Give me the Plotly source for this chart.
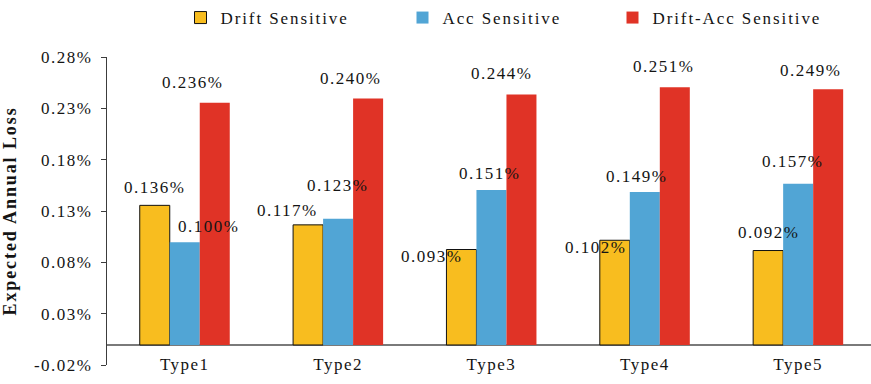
import plotly.graph_objects as go

# ---- data -------------------------------------------------------------
categories = ["Type1", "Type2", "Type3", "Type4", "Type5"]
series_names = ["Drift Sensitive", "Acc Sensitive", "Drift-Acc Sensitive"]
drift_sensitive = [0.136, 0.117, 0.093, 0.102, 0.092]
acc_sensitive = [0.100, 0.123, 0.151, 0.149, 0.157]
drift_acc_sensitive = [0.236, 0.240, 0.244, 0.251, 0.249]
y_tick_labels = ["-0.02%", "0.03%", "0.08%", "0.13%", "0.18%", "0.23%", "0.28%"]
y_axis_title = "Expected Annual Loss"

# ---- styling ----------------------------------------------------------
FONT = "Liberation Serif"
TEXT_COLOR = "#141414"
COLORS = ["#F8BD1F", "#51A5D5", "#E03326"]
OUTLINES = [("#111111", 1.0), (None, 0), (None, 0)]
LEGEND_WIDTHS = [177, 165, 170]
Y_MIN, Y_STEP = -0.0195, 0.05
BARGAP = 0.413

# per-label pixel nudges (dx, dy) so the value labels don't collide
LABEL_SHIFTS = [
    [(0, 18), (-21, 14), (-30, -6.5), (-19, -7), (0, 18)],
    [(24, 16), (-1, 33), (-2, 16), (-8, 16), (-6, 22.6)],
    [(-22, 20), (-18, 20), (-20, 21), (-11, 21), (-18, 19)],
]


def spaced(text, px=1.5):
    return f'<span style="letter-spacing:{px}px">{text}</span>'


series_values = [drift_sensitive, acc_sensitive, drift_acc_sensitive]
x_pos = list(range(len(categories)))
bar_w = (1 - BARGAP) / len(series_values)

fig = go.Figure()
for k, (name, vals) in enumerate(zip(series_names, series_values)):
    lc, lw = OUTLINES[k]
    fig.add_trace(go.Bar(
        name=spaced(name, 1.9),
        x=x_pos,
        y=vals,
        marker=dict(color=COLORS[k],
                    line=dict(color=lc or COLORS[k], width=lw)),
        legendwidth=LEGEND_WIDTHS[k],
        hoverinfo="skip",
    ))

# value labels placed at each bar's top
annotations = []
for k, vals in enumerate(series_values):
    offset = (k - (len(series_values) - 1) / 2) * bar_w
    for i, v in enumerate(vals):
        dx, dy = LABEL_SHIFTS[k][i]
        annotations.append(dict(
            x=x_pos[i] + offset, y=v, xref="x", yref="y",
            text=spaced(f"{v:.3f}%"), showarrow=False,
            xanchor="center", yanchor="middle",
            xshift=dx, yshift=dy,
            font=dict(family=FONT, size=17, color=TEXT_COLOR),
        ))

y_tick_vals = [Y_MIN + j * Y_STEP for j in range(len(y_tick_labels))]

fig.update_layout(
    width=871, height=384,
    margin=dict(l=107, r=0, t=57, b=19, pad=0),
    paper_bgcolor="white", plot_bgcolor="white",
    barmode="group", bargap=BARGAP, bargroupgap=0,
    font=dict(family=FONT, size=17, color=TEXT_COLOR),
    showlegend=True,
    legend=dict(
        orientation="h", xref="container", yref="container",
        x=180.5 / 871, xanchor="left", y=1.0, yanchor="top",
        font=dict(family=FONT, size=17, color=TEXT_COLOR),
        bgcolor="rgba(0,0,0,0)", itemwidth=30, traceorder="normal",
        itemclick=False, itemdoubleclick=False,
    ),
    annotations=annotations,
    xaxis=dict(
        type="linear", range=[-0.507, 4.475],
        tickmode="array", tickvals=x_pos,
        ticktext=[spaced(c) for c in categories],
        showgrid=False, zeroline=False, showline=False, ticks="",
        ticklabelstandoff=-13,
        tickfont=dict(family=FONT, size=17, color=TEXT_COLOR),
    ),
    yaxis=dict(
        range=[Y_MIN, Y_MIN + Y_STEP * (len(y_tick_labels) - 1)],
        tickmode="array", tickvals=y_tick_vals,
        ticktext=[spaced(t) for t in y_tick_labels],
        showgrid=False,
        showline=True, linecolor="#3c3c3c", linewidth=1.2,
        ticks="outside", ticklen=5, tickcolor="#3c3c3c", tickwidth=1.2,
        ticklabelstandoff=5,
        zeroline=True, zerolinecolor="#7a7a7a", zerolinewidth=1.6,
        tickfont=dict(family=FONT, size=17, color=TEXT_COLOR),
        title=dict(text=f"<b>{spaced(y_axis_title, 1.9)}</b>",
                   font=dict(family=FONT, size=18, color=TEXT_COLOR),
                   standoff=12),
    ),
)

fig.write_html("out.html")
